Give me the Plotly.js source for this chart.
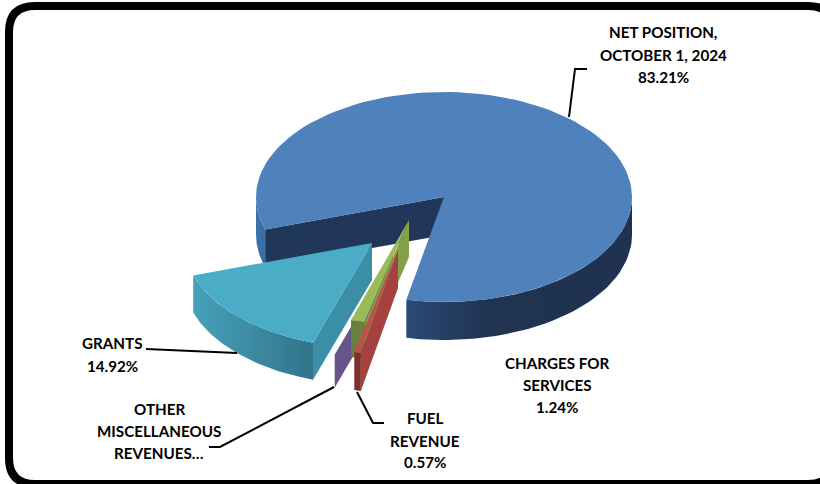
<!DOCTYPE html>
<html><head><meta charset="utf-8">
<script src="https://cdn.plot.ly/plotly-3.0.1.min.js"></script>
<style>html,body{margin:0;padding:0;background:#fff}#c{width:820px;height:484px}</style>
</head><body><div id="c"></div>
<script>
// ---- data ----
const categories = ["NET POSITION, OCTOBER 1, 2024","CHARGES FOR SERVICES","FUEL REVENUE","OTHER MISCELLANEOUS REVENUES…","GRANTS"];
const shares = [83.21,1.24,0.57,0.06,14.92];
const tickTexts = ["83.21%","1.24%","0.57%","","14.92%"];

// ---- look of the 3-D pie ----
const rx=188, ry=[105,105,105,105,105];
const firstAngle=252;
const apex=[[444,197],[409,220],[398,250],[393,255],[372,243]];
const angleShift=[0,1.94,-4.62,0,0];
const depth=[38,37,38,33,37];
const topCol=["#4f81bd","#9bbb59","#bf4f4b","#8064a2","#4aacc7"];
const faceCol=["#20375a","#83a04a","#a5423f","#66548a","#3a8ea6"];
const arcGrad=[
  [[0,"#2b4b77"],[0.35,"#1f3451"],[1,"#1f3350"]],
  [[0,"#6b7f3d"],[1,"#6b7f3d"]],
  [[0,"#7f302d"],[1,"#7f302d"]],
  [[0,"#66548a"],[1,"#66548a"]],
  [[0,"#46a1ba"],[1,"#32748a"]]];
const rimGrad=[[0,"#3f73ad"],[1,"#3b6ca3"]];

const rad=d=>d*Math.PI/180;
const P=(i,a,dz=0)=>[apex[i][0]+rx*Math.sin(rad(a)),apex[i][1]-ry[i]*Math.cos(rad(a))+dz];
const traces=[];
function poly(pts,color,grad){
  const t={type:'scatter',mode:'lines',x:pts.map(p=>p[0]),y:pts.map(p=>p[1]),fill:'toself',
    line:{width:0,color:color||grad[0][1]},hoverinfo:'skip',showlegend:false};
  if(grad){t.fillgradient={type:'horizontal',colorscale:grad};}
  else t.fillcolor=color;
  traces.push(t);
}
function arcBand(i,a0,a1,grad){
  const top=[],bot=[];
  for(let k=0;k<=48;k++){const a=a0+(a1-a0)*k/48;top.push(P(i,a));bot.push(P(i,a,depth[i]));}
  poly(top.concat(bot.reverse()),null,grad);
}
function topFace(i,a0,a1){
  const pts=[apex[i]];
  for(let k=0;k<=120;k++){pts.push(P(i,a0+(a1-a0)*k/120));}
  pts.push(apex[i]);
  poly(pts,topCol[i]);
}
function radialFace(i,a,col){
  const d=depth[i],q=P(i,a);
  poly([apex[i],q,[q[0],q[1]+d],[apex[i][0],apex[i][1]+d]],col);
}
// cumulative angles, clockwise from the top
const starts=[],ends=[];
let acc=firstAngle;
shares.forEach((v,i)=>{const s=v/100*360;starts.push(acc+angleShift[i]);ends.push(acc+s+angleShift[i]);acc+=s;});

// net position
arcBand(0,starts[0],270,rimGrad);
radialFace(0,starts[0],faceCol[0]);
arcBand(0,ends[0],450,arcGrad[0]);
topFace(0,starts[0],ends[0]);
// grants
arcBand(4,starts[4],ends[4],arcGrad[4]);
radialFace(4,starts[4],faceCol[4]);
topFace(4,starts[4],ends[4]);
// other miscellaneous
radialFace(3,starts[3],faceCol[3]);
topFace(3,starts[3],ends[3]);
// charges
radialFace(1,starts[1],faceCol[1]);
arcBand(1,starts[1],ends[1],arcGrad[1]);
topFace(1,starts[1],ends[1]);
// fuel
radialFace(2,starts[2],faceCol[2]);
arcBand(2,starts[2],ends[2],arcGrad[2]);
topFace(2,starts[2],ends[2]);

// leader lines
const leaders=[[[569,117],[575,69],[587,69]],[[146,349],[237,353]],[[209,447],[220,447],[334,387]],[[357,392],[373,423],[384,423]]];
leaders.forEach(l=>traces.push({type:'scatter',mode:'lines',x:l.map(p=>p[0]),y:l.map(p=>p[1]),
  line:{color:'#000',width:2},hoverinfo:'skip',showlegend:false}));

// labels
const labelLines=[
 {x:663,y:[32,55,77],t:["NET POSITION,","OCTOBER 1, 2024",tickTexts[0]]},
 {x:557,y:[363,385,407],t:["CHARGES FOR","SERVICES",tickTexts[1]]},
 {x:425,y:[418,441,462],t:["FUEL","REVENUE",tickTexts[2]]},
 {x:159,y:[409,431,453],t:["OTHER","MISCELLANEOUS","REVENUES…"]},
 {x:112,y:[343,366],t:["GRANTS",tickTexts[4]]}];
const annotations=[];
labelLines.forEach(g=>g.t.forEach((s,j)=>annotations.push({x:g.x,y:g.y[j],xref:'x',yref:'y',text:'<b>'+s+'</b>',
  showarrow:false,xanchor:'center',yanchor:'middle',font:{family:'Lato, Arial, sans-serif',size:15.2,color:'#000'}})));

const L=9,T=6,R=834,B=484,r=26;
const frame=`M ${L+r} ${T} L ${R-r} ${T} Q ${R} ${T} ${R} ${T+r} L ${R} ${B-r} Q ${R} ${B} ${R-r} ${B} L ${L+r} ${B} Q ${L} ${B} ${L} ${B-r} L ${L} ${T+r} Q ${L} ${T} ${L+r} ${T} Z`;

Plotly.newPlot('c',traces,{
  width:820,height:484,margin:{l:0,r:0,t:0,b:0},paper_bgcolor:'#fff',plot_bgcolor:'#fff',showlegend:false,
  xaxis:{range:[0,820],visible:false,fixedrange:true},
  yaxis:{range:[484,0],visible:false,fixedrange:true},
  shapes:[{type:'path',path:frame,xref:'x',yref:'y',line:{color:'#000',width:8},fillcolor:'rgba(0,0,0,0)',layer:'above'}],
  annotations
},{displayModeBar:false,staticPlot:true});
</script></body></html>
